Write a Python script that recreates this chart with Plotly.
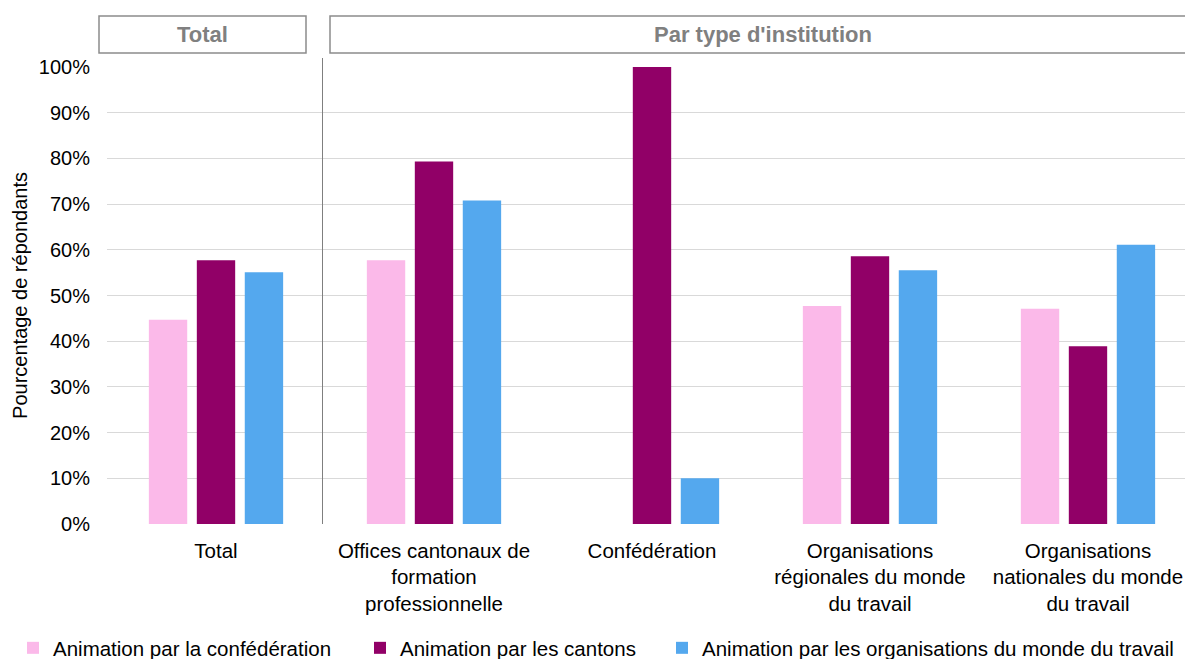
import plotly.graph_objects as go

# Categories and series (share of respondents)
categories = [
    "Total",
    "Offices cantonaux de<br>formation<br>professionnelle",
    "Confédération",
    "Organisations<br>régionales du monde<br>du travail",
    "Organisations<br>nationales du monde<br>du travail",
]
series_names = [
    "Animation par la confédération",
    "Animation par les cantons",
    "Animation par les organisations du monde du travail",
]
confederation = [0.447, 0.577, 0.0, 0.477, 0.471]
cantons = [0.577, 0.793, 1.0, 0.586, 0.389]
organisations = [0.551, 0.708, 0.10, 0.555, 0.611]
y_ticks = [0, 0.1, 0.2, 0.3, 0.4, 0.5, 0.6, 0.7, 0.8, 0.9, 1.0]
header_labels = ["Total", "Par type d'institution"]

colors = ["#FBB9E9", "#910067", "#54A8EE"]
FONT = "Liberation Sans, Arial, sans-serif"

W, H = 1185, 659
L, R, T, B = 107, 0, 67, 135
pw, ph = W - L - R, H - T - B


def px_x(x):
    return (x - L) / pw


def px_y(y):
    return (H - B - y) / ph


fig = go.Figure()
all_values = [confederation, cantons, organisations]
legend_keys = ["legend", "legend2", "legend3"]
for name, vals, c, lg in zip(series_names, all_values, colors, legend_keys):
    fig.add_trace(go.Bar(
        x=categories, y=vals, name=name,
        marker=dict(color=c, line=dict(width=0)),
        legend=lg, showlegend=True,
    ))

# One legend per series, laid out along the bottom edge
legend_text_starts = [53, 400, 702]
legend_common = dict(
    orientation="h", yanchor="middle", xanchor="left",
    xref="container", yref="container",
    font=dict(family=FONT, size=20.5, color="#000000"),
    bgcolor="rgba(0,0,0,0)", itemclick=False,
)
fig.update_layout(showlegend=True, **{
    key: dict(x=(start - 40) / W, y=(H - 648) / H, **legend_common)
    for key, start in zip(legend_keys, legend_text_starts)
})

# Header boxes above the plot
boxes = [(99, 306), (330, 1200)]
for (x0, x1), label in zip(boxes, header_labels):
    fig.add_shape(type="rect", xref="paper", yref="paper",
                  x0=px_x(x0), x1=px_x(x1), y0=px_y(53), y1=px_y(16),
                  line=dict(color="#8C8C8C", width=1.5), fillcolor="white", layer="above")
    fig.add_annotation(xref="paper", yref="paper",
                       x=px_x((x0 + min(x1, 1195)) / 2), y=px_y(35),
                       text=f"<b>{label}</b>", showarrow=False,
                       font=dict(family=FONT, size=22, color="#808080"),
                       xanchor="center", yanchor="middle")

# Separator between total and per-institution groups
fig.add_shape(type="line", xref="paper", yref="paper",
              x0=px_x(322.5), x1=px_x(322.5), y0=0, y1=px_y(58),
              line=dict(color="#7F7F7F", width=1))

fig.update_layout(
    width=W, height=H,
    margin=dict(l=L, r=R, t=T, b=B, autoexpand=False),
    paper_bgcolor="white", plot_bgcolor="white",
    barmode="group", bargap=0.34, bargroupgap=0.2,
    font=dict(family=FONT, size=20, color="#000000"),
    xaxis=dict(
        type="category", range=[-0.5, 4.445],
        showgrid=False, zeroline=False, showline=False,
        tickfont=dict(family=FONT, size=20.5, color="#000000"),
        ticks="", ticklabelstandoff=12, automargin=False,
    ),
    yaxis=dict(
        range=[0, 1], tickvals=y_ticks, tickformat=".0%",
        showgrid=True, gridcolor="#D9D9D9", gridwidth=1,
        zeroline=False, showline=False, ticks="",
        ticklabelstandoff=16,
        tickfont=dict(family=FONT, size=20, color="#000000"),
        title=dict(text="Pourcentage de répondants",
                   font=dict(family=FONT, size=20, color="#000000"),
                   standoff=5),
        automargin=False,
    ),
)

fig.write_html("out.html")
